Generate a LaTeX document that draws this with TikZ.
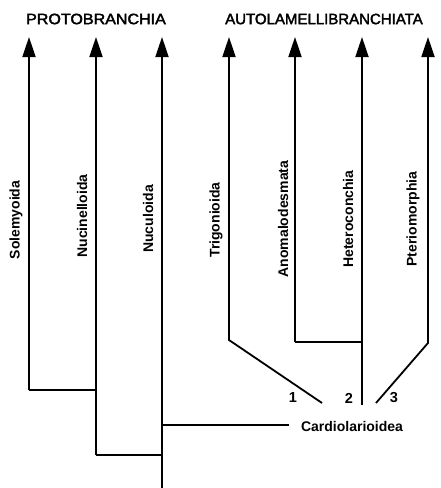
\documentclass[tikz,border=0pt]{standalone}
\usepackage{fontspec}
\setmainfont{Liberation Sans}
\newfontfamily\titlefont{Liberation Sans}[FakeBold=2.5]
\usetikzlibrary{arrows.meta}
\tikzset{
  branch/.style={line width=1.8pt,-{Triangle[width=13pt,length=20pt]}},
  link/.style={line width=1.8pt},
  taxon/.style={rotate=90,font=\fontsize{14}{16}\selectfont\bfseries,inner sep=0pt},
  group/.style={font=\titlefont\fontsize{15}{17}\selectfont,inner sep=0pt},
  num/.style={font=\fontsize{14.5}{16}\selectfont\bfseries,inner sep=0pt}
}
\begin{document}
\begin{tikzpicture}[x=1pt,y=-1pt]
\useasboundingbox (0,0) rectangle (440,488);
% titles
\node[group,xscale=1.07] (proto) at (96,19) {PROTOBRANCHIA};
\node[group] (auto) at (324,19) {AUTOLAMELLIBRANCHIATA};
% arrow tips
\coordinate (tSol) at (29,37);
\coordinate (tNcn) at (96,37);
\coordinate (tNcl) at (162,37);
\coordinate (tTri) at (229,37);
\coordinate (tAno) at (295,37);
\coordinate (tHet) at (362,37);
\coordinate (tPte) at (428,37);
% lower points
\coordinate (bSol) at (29,390);
\coordinate (jSol) at (96,390);
\coordinate (bNcn) at (96,455);
\coordinate (jNcn) at (162,455);
\coordinate (bNcl) at (162,488);
\coordinate (jCar) at (162,425);
\coordinate (eCar) at (289,425);
\coordinate (kTri) at (229,340);
\coordinate (eTri) at (322,403);
\coordinate (kAno) at (295,342);
\coordinate (jAno) at (362,342);
\coordinate (bHet) at (362,405);
\coordinate (kPte) at (428,343);
\coordinate (ePte) at (376,403);
% branches
\draw[branch] (bSol) -- (tSol);
\draw[link] (bSol) -- (jSol);
\draw[branch] (bNcn) -- (tNcn);
\draw[link] (bNcn) -- (jNcn);
\draw[branch] (bNcl) -- (tNcl);
\draw[link] (jCar) -- (eCar);
\draw[branch] (eTri) -- (kTri) -- (tTri);
\draw[link] (jAno) -- (kAno);
\draw[branch] (kAno) -- (tAno);
\draw[branch] (bHet) -- (tHet);
\draw[branch] (ePte) -- (kPte) -- (tPte);
% taxon labels
\node[taxon] (lSol) at (16,220) {Solemyoida};
\node[taxon] (lNcn) at (82,216) {Nucinelloida};
\node[taxon] (lNcl) at (148,219) {Nuculoida};
\node[taxon] (lTri) at (216,220) {Trigonioida};
\node[taxon] (lAno) at (283,219) {Anomalodesmata};
\node[taxon] (lHet) at (348,219) {Heteroconchia};
\node[taxon] (lPte) at (413,219) {Pteriomorphia};
% Cardiolarioidea
\node[font=\fontsize{14}{16}\selectfont\bfseries,inner sep=0pt] (car) at (352,426) {Cardiolarioidea};
\node[num] (n1) at (293,398) {1};
\node[num] (n2) at (349,398) {2};
\node[num] (n3) at (394,398) {3};
\end{tikzpicture}
\end{document}
